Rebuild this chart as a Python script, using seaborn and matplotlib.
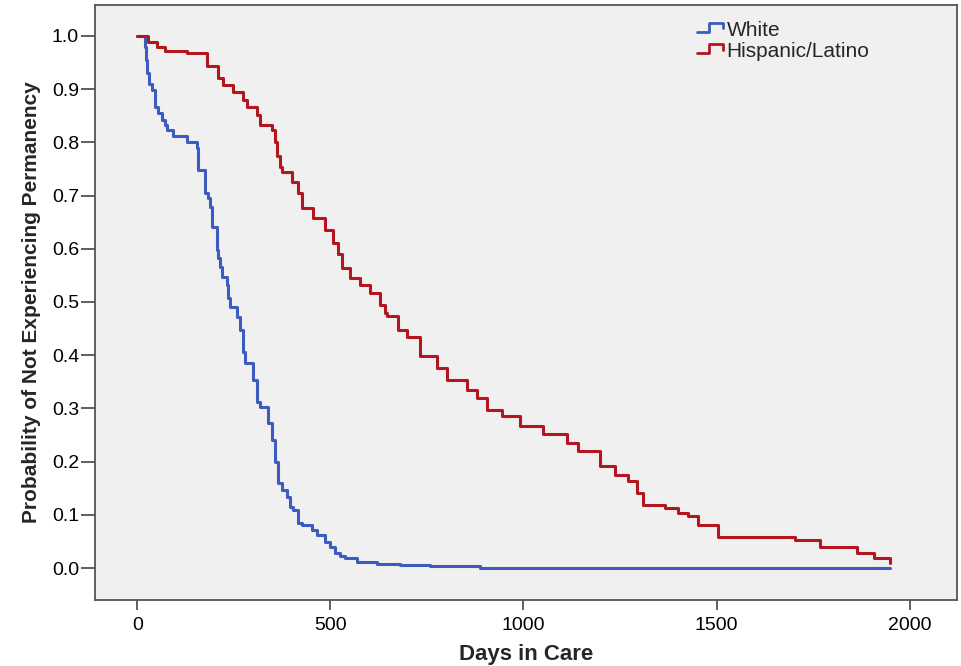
import numpy as np
import pandas as pd
import matplotlib
matplotlib.use("Agg")
import matplotlib.pyplot as plt
import seaborn as sns
from matplotlib.lines import Line2D
from matplotlib.legend_handler import HandlerBase

# ---- data ----
white_days = [0, 19, 22, 25, 30, 38, 45, 53, 63, 71, 76, 92, 128, 154, 157, 175, 183, 188,
              193, 206, 209, 214, 219, 232, 234, 240, 258, 266, 273, 279, 299, 310, 317,
              338, 348, 356, 364, 374, 387, 395, 403, 416, 426, 452, 465, 486, 499, 512,
              525, 538, 569, 620, 680, 758, 887, 1094, 1457, 1950]
white_surv = [1.0, 0.98, 0.955, 0.93, 0.91, 0.898, 0.867, 0.855, 0.842, 0.833, 0.823, 0.812,
              0.80, 0.79, 0.748, 0.705, 0.695, 0.679, 0.641, 0.598, 0.583, 0.566, 0.547,
              0.532, 0.507, 0.49, 0.472, 0.447, 0.406, 0.385, 0.353, 0.312, 0.303, 0.273,
              0.241, 0.20, 0.16, 0.147, 0.134, 0.115, 0.109, 0.084, 0.081, 0.071, 0.062,
              0.049, 0.040, 0.028, 0.023, 0.019, 0.012, 0.008, 0.005, 0.003, 0.001, 0.0, 0.0, 0.0]

hisp_days = [0, 27, 50, 71, 128, 180, 209, 221, 247, 273, 284, 310, 317, 348, 356, 361, 369,
             374, 400, 416, 426, 455, 486, 506, 519, 530, 550, 576, 602, 628, 641, 646, 675,
             698, 732, 776, 802, 853, 879, 905, 944, 991, 1050, 1113, 1141, 1198, 1237, 1270,
             1294, 1310, 1367, 1400, 1426, 1452, 1504, 1703, 1768, 1864, 1908, 1950]
hisp_surv = [1.0, 0.989, 0.98, 0.972, 0.967, 0.944, 0.921, 0.908, 0.895, 0.88, 0.867, 0.852,
             0.833, 0.823, 0.80, 0.775, 0.754, 0.744, 0.726, 0.705, 0.676, 0.657, 0.635, 0.61,
             0.59, 0.564, 0.545, 0.532, 0.517, 0.494, 0.479, 0.474, 0.447, 0.434, 0.398, 0.376,
             0.353, 0.334, 0.319, 0.297, 0.286, 0.267, 0.252, 0.235, 0.220, 0.192, 0.175,
             0.163, 0.141, 0.118, 0.112, 0.103, 0.097, 0.080, 0.059, 0.053, 0.040, 0.028,
             0.019, 0.010]

groups = ["White", "Hispanic/Latino"]
colors = {"White": "#3c5cbf", "Hispanic/Latino": "#b3161f"}
x_ticks = [0, 500, 1000, 1500, 2000]
y_ticks = [0.0, 0.1, 0.2, 0.3, 0.4, 0.5, 0.6, 0.7, 0.8, 0.9, 1.0]

df = pd.concat([
    pd.DataFrame({"Days": white_days, "Survival": white_surv, "Group": "White"}),
    pd.DataFrame({"Days": hisp_days, "Survival": hisp_surv, "Group": "Hispanic/Latino"}),
], ignore_index=True)

sns.set_theme(style="white")
FAM = ["Liberation Sans", "DejaVu Sans"]
plt.rcParams["font.family"] = FAM

fig = plt.figure(figsize=(9.62, 6.66), dpi=100)
ax = fig.add_axes([95 / 962, 66 / 666, (957 - 95) / 962, (600 - 5) / 666])
ax.set_facecolor("#f0f0f0")

sns.lineplot(data=df, x="Days", y="Survival", hue="Group", hue_order=groups,
             palette=colors, estimator=None, sort=True, drawstyle="steps-post",
             linewidth=2.2, legend=False, ax=ax)

ax.set_xlim(-110, 2123)
ax.set_ylim(-0.06, 1.058)
ax.set_xticks(x_ticks)
ax.set_yticks(y_ticks)
ax.set_yticklabels([f"{v:.1f}" for v in y_ticks])
ax.tick_params(axis="both", which="both", direction="out", width=1.2,
               color="#444444", labelsize=14, labelcolor="black")
ax.tick_params(axis="y", length=10, pad=1.5)
ax.tick_params(axis="x", length=7.5, pad=5)
ax.tick_params(left=True, bottom=True)
for s in ax.spines.values():
    s.set_color("#555555")
    s.set_linewidth(1.3)
    s.set_visible(True)

ax.set_xlabel("Days in Care", fontsize=16, fontweight="bold", family=FAM, labelpad=7)
ax.set_ylabel("Probability of Not Experiencing Permanency", fontsize=15, fontweight="bold",
              family=FAM, labelpad=8)


class StepHandler(HandlerBase):
    def create_artists(self, legend, orig_handle, xdescent, ydescent, width, height,
                       fontsize, trans):
        w, h = width, height
        xs = np.array([0, 0.42, 0.42, 0.95, 0.95]) * w - xdescent
        ys = np.array([0.25, 0.25, 0.9, 0.9, 0.5]) * h - ydescent
        ln = Line2D(xs, ys, color=orig_handle.get_color(), linewidth=2.0)
        ln.set_transform(trans)
        return [ln]


handles = [Line2D([], [], color=colors[g]) for g in groups]
leg = ax.legend(handles, groups, handler_map={Line2D: StepHandler()}, loc="upper left",
                bbox_to_anchor=(0.677, 1.005), frameon=False,
                handlelength=1.3, handletextpad=0.1, labelspacing=0.1,
                prop={"family": FAM, "size": 15})

fig.savefig("out.png", dpi=100, facecolor="white")
